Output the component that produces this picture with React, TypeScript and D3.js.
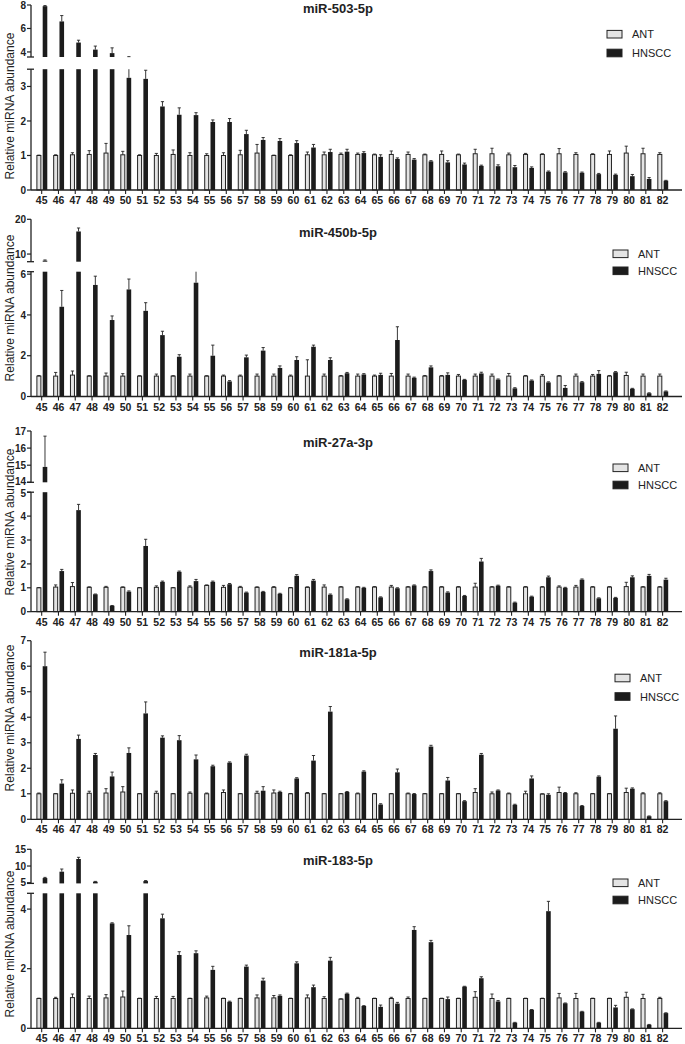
import React, { useEffect } from "react";
import * as d3 from "d3";

const categories = [
  "45", "46", "47", "48", "49", "50", "51", "52", "53", "54", "55", "56", "57",
  "58", "59", "60", "61", "62", "63", "64", "65", "66", "67", "68", "69", "70",
  "71", "72", "73", "74", "75", "76", "77", "78", "79", "80", "81", "82",
];
const seriesNames = ["ANT", "HNSCC"];
const yAxisTitle = "Relative miRNA abundance";

// miR-503-5p
const ant503 = [1.0, 1.0, 1.02, 1.03, 1.07, 1.02, 1.0, 1.0, 1.03, 1.0, 1.0, 1.0, 1.02, 1.07, 1.0, 1.0, 1.02, 1.02, 1.03, 1.03, 1.02, 1.03, 1.03, 1.02, 1.03, 1.02, 1.05, 1.05, 1.02, 1.03, 1.03, 1.05, 1.03, 1.03, 1.03, 1.07, 1.05, 1.03];
const ant503Sd = [0.01, 0.02, 0.06, 0.11, 0.28, 0.1, 0.02, 0.06, 0.13, 0.08, 0.05, 0.08, 0.13, 0.25, 0.01, 0.02, 0.08, 0.08, 0.04, 0.04, 0.02, 0.1, 0.07, 0.02, 0.1, 0.02, 0.13, 0.16, 0.05, 0.03, 0.02, 0.15, 0.05, 0.02, 0.1, 0.2, 0.16, 0.05];
const hn503 = [7.9, 6.6, 4.8, 4.2, 3.9, 3.25, 3.22, 2.42, 2.18, 2.17, 1.97, 1.97, 1.62, 1.45, 1.42, 1.36, 1.23, 1.1, 1.11, 1.07, 0.96, 0.9, 0.88, 0.83, 0.8, 0.74, 0.7, 0.69, 0.66, 0.64, 0.53, 0.51, 0.5, 0.46, 0.44, 0.4, 0.32, 0.27];
const hn503Sd = [0.05, 0.5, 0.2, 0.3, 0.45, 0.35, 0.25, 0.14, 0.2, 0.07, 0.06, 0.1, 0.11, 0.07, 0.07, 0.07, 0.09, 0.08, 0.07, 0.04, 0.06, 0.03, 0.03, 0.02, 0.05, 0.04, 0.02, 0.04, 0.05, 0.03, 0.02, 0.02, 0.02, 0.02, 0.02, 0.05, 0.04, 0.01];

// miR-450b-5p
const ant450 = [1.0, 1.0, 1.05, 1.0, 1.0, 1.0, 1.0, 1.0, 1.0, 1.0, 1.0, 1.0, 1.0, 1.0, 1.0, 1.0, 1.0, 1.0, 1.0, 1.0, 1.0, 1.0, 1.0, 1.0, 1.0, 1.0, 1.0, 1.0, 1.0, 1.0, 1.0, 1.0, 1.0, 1.0, 1.0, 1.03, 1.0, 1.0];
const ant450Sd = [0.03, 0.18, 0.2, 0.02, 0.15, 0.12, 0.02, 0.1, 0.02, 0.1, 0.02, 0.05, 0.05, 0.1, 0.1, 0.05, 0.8, 0.1, 0.03, 0.1, 0.05, 0.13, 0.1, 0.03, 0.03, 0.08, 0.1, 0.1, 0.13, 0.03, 0.08, 0.03, 0.1, 0.08, 0.03, 0.16, 0.1, 0.1];
const hn450 = [8.1, 4.4, 16.5, 5.47, 3.75, 5.25, 4.2, 3.01, 1.95, 5.58, 2.0, 0.74, 1.92, 2.25, 1.4, 1.79, 2.44, 1.79, 1.14, 1.08, 1.06, 2.77, 0.92, 1.43, 1.06, 0.82, 1.13, 0.83, 0.4, 0.78, 0.69, 0.42, 0.7, 1.11, 1.19, 0.38, 0.16, 0.25];
const hn450Sd = [0.2, 0.8, 1.0, 0.43, 0.2, 0.51, 0.4, 0.19, 0.1, 0.75, 0.52, 0.04, 0.11, 0.15, 0.1, 0.16, 0.08, 0.11, 0.04, 0.04, 0.08, 0.65, 0.03, 0.07, 0.1, 0.02, 0.06, 0.03, 0.03, 0.03, 0.03, 0.12, 0.03, 0.16, 0.03, 0.02, 0.02, 0.02];

// miR-27a-3p
const ant27 = [1.0, 1.03, 1.05, 1.02, 1.02, 1.02, 1.0, 1.02, 1.0, 1.03, 1.1, 1.02, 1.02, 1.02, 1.02, 1.0, 1.02, 1.03, 1.03, 1.03, 1.03, 1.03, 1.03, 1.03, 1.03, 1.03, 1.03, 1.03, 1.03, 1.03, 1.03, 1.03, 1.03, 1.03, 1.03, 1.05, 1.03, 1.03];
const ant27Sd = [0.01, 0.09, 0.17, 0.02, 0.04, 0.02, 0.01, 0.06, 0.01, 0.05, 0.02, 0.08, 0.04, 0.02, 0.03, 0.01, 0.02, 0.09, 0.02, 0.02, 0.02, 0.07, 0.02, 0.02, 0.02, 0.02, 0.16, 0.02, 0.02, 0.02, 0.02, 0.05, 0.07, 0.02, 0.02, 0.18, 0.02, 0.02];
const hn27 = [14.9, 1.7, 4.25, 0.73, 0.25, 0.84, 2.75, 1.25, 1.67, 1.28, 1.25, 1.15, 0.8, 0.83, 0.75, 1.5, 1.3, 0.71, 0.52, 1.0, 0.6, 0.98, 1.1, 1.7, 0.8, 0.66, 2.1, 1.09, 0.38, 0.63, 1.44, 1.0, 1.34, 0.56, 0.58, 1.44, 1.5, 1.34];
const hn27Sd = [1.8, 0.07, 0.24, 0.01, 0.01, 0.03, 0.28, 0.03, 0.03, 0.07, 0.03, 0.03, 0.02, 0.02, 0.02, 0.05, 0.05, 0.03, 0.02, 0.02, 0.02, 0.02, 0.02, 0.05, 0.03, 0.02, 0.13, 0.02, 0.02, 0.02, 0.05, 0.02, 0.03, 0.02, 0.02, 0.06, 0.06, 0.06];

// miR-181a-5p
const ant181 = [1.0, 1.0, 1.02, 1.02, 1.03, 1.07, 1.0, 1.02, 1.0, 1.02, 1.0, 1.05, 1.0, 1.02, 1.03, 1.0, 1.02, 1.0, 1.0, 1.0, 1.0, 1.0, 1.0, 1.0, 1.0, 1.0, 1.05, 1.0, 1.0, 1.0, 0.99, 1.05, 1.0, 1.0, 1.0, 1.05, 1.0, 1.0];
const ant181Sd = [0.03, 0.01, 0.13, 0.08, 0.17, 0.21, 0.01, 0.08, 0.01, 0.05, 0.03, 0.1, 0.01, 0.08, 0.12, 0.01, 0.03, 0.01, 0.01, 0.03, 0.01, 0.01, 0.03, 0.01, 0.01, 0.01, 0.15, 0.07, 0.03, 0.1, 0.01, 0.21, 0.04, 0.01, 0.01, 0.17, 0.04, 0.04];
const hn181 = [6.0, 1.4, 3.15, 2.52, 1.68, 2.6, 4.15, 3.2, 3.1, 2.35, 2.08, 2.22, 2.5, 1.12, 1.07, 1.6, 2.3, 4.22, 1.07, 1.87, 0.58, 1.84, 0.99, 2.85, 1.52, 0.71, 2.53, 1.13, 0.57, 1.6, 0.96, 1.03, 0.52, 1.67, 3.55, 1.2, 0.12, 0.71];
const hn181Sd = [0.55, 0.15, 0.15, 0.06, 0.17, 0.2, 0.45, 0.07, 0.18, 0.17, 0.04, 0.03, 0.05, 0.16, 0.03, 0.03, 0.2, 0.2, 0.02, 0.03, 0.03, 0.13, 0.02, 0.05, 0.12, 0.02, 0.05, 0.02, 0.02, 0.1, 0.04, 0.02, 0.02, 0.03, 0.5, 0.03, 0.01, 0.02];

// miR-183-5p
const ant183 = [1.0, 1.0, 1.03, 1.0, 1.02, 1.05, 1.0, 1.0, 1.0, 1.0, 1.02, 1.0, 1.0, 1.02, 1.02, 1.0, 1.02, 1.0, 0.98, 1.0, 1.0, 1.0, 1.0, 1.0, 1.0, 1.0, 1.04, 1.0, 1.0, 1.0, 1.0, 1.02, 1.0, 1.0, 1.0, 1.04, 1.0, 1.0];
const ant183Sd = [0.01, 0.04, 0.12, 0.08, 0.11, 0.2, 0.01, 0.07, 0.07, 0.01, 0.06, 0.01, 0.01, 0.1, 0.08, 0.01, 0.1, 0.06, 0.01, 0.04, 0.01, 0.04, 0.05, 0.01, 0.01, 0.01, 0.19, 0.15, 0.01, 0.01, 0.01, 0.15, 0.17, 0.01, 0.01, 0.17, 0.14, 0.04];
const hn183 = [6.4, 8.3, 12.1, 5.3, 3.52, 3.13, 5.5, 3.69, 2.46, 2.52, 1.96, 0.89, 2.07, 1.6, 1.09, 2.18, 1.38, 2.27, 1.16, 0.75, 0.72, 0.83, 3.3, 2.89, 0.98, 1.4, 1.68, 0.9, 0.19, 0.62, 3.93, 0.84, 0.56, 0.19, 0.7, 0.64, 0.12, 0.51];
const hn183Sd = [0.2, 0.8, 0.5, 0.1, 0.02, 0.31, 0.15, 0.14, 0.11, 0.08, 0.12, 0.02, 0.05, 0.08, 0.03, 0.05, 0.07, 0.11, 0.02, 0.01, 0.06, 0.04, 0.11, 0.06, 0.07, 0.01, 0.05, 0.03, 0.01, 0.01, 0.33, 0.01, 0.01, 0.01, 0.07, 0.01, 0.01, 0.01];

type Seg = { domain: [number, number]; range: [number, number]; ticks: number[] };
type PanelCfg = {
  title: string;
  ant: number[];
  antSd: number[];
  hn: number[];
  hnSd: number[];
  y0: number;
  segs: Seg[];
  titleY: number;
  legendX: number;
  legendY: [number, number];
  labelY: number;
};

const panels: PanelCfg[] = [
  {
    title: "miR-503-5p", ant: ant503, antSd: ant503Sd, hn: hn503, hnSd: hn503Sd, y0: 190,
    segs: [
      { domain: [0, 3.5], range: [190, 69.2], ticks: [0, 1, 2, 3] },
      { domain: [3.57, 8], range: [57, 5], ticks: [4, 6, 8] },
    ],
    titleY: 13, legendX: 607, legendY: [34.2, 53], labelY: 106,
  },
  {
    title: "miR-450b-5p", ant: ant450, antSd: ant450Sd, hn: hn450, hnSd: hn450Sd, y0: 396.5,
    segs: [
      { domain: [0, 6.12], range: [396.5, 271.7], ticks: [0, 2, 4, 6] },
      { domain: [7.8, 20], range: [261.7, 219.3], ticks: [10, 20] },
    ],
    titleY: 237, legendX: 613, legendY: [253.8, 270.8], labelY: 308,
  },
  {
    title: "miR-27a-3p", ant: ant27, antSd: ant27Sd, hn: hn27, hnSd: hn27Sd, y0: 611.7,
    segs: [
      { domain: [0, 5], range: [611.7, 492.2], ticks: [0, 1, 2, 3, 4, 5] },
      { domain: [14, 17], range: [482.3, 431], ticks: [14, 15, 16, 17] },
    ],
    titleY: 447, legendX: 613, legendY: [467.8, 485], labelY: 522,
  },
  {
    title: "miR-181a-5p", ant: ant181, antSd: ant181Sd, hn: hn181, hnSd: hn181Sd, y0: 819.3,
    segs: [{ domain: [0, 7], range: [819.3, 640.7], ticks: [0, 1, 2, 3, 4, 5, 6, 7] }],
    titleY: 657, legendX: 615, legendY: [678, 696.5], labelY: 718,
  },
  {
    title: "miR-183-5p", ant: ant183, antSd: ant183Sd, hn: hn183, hnSd: hn183Sd, y0: 1028.3,
    segs: [
      { domain: [0, 4.53], range: [1028.3, 893.3], ticks: [0, 2, 4] },
      { domain: [4.8, 15], range: [883.4, 849.3], ticks: [5, 10, 15] },
    ],
    titleY: 864.5, legendX: 613, legendY: [882.8, 900], labelY: 944,
  },
];

const FONT = "'Liberation Sans', Arial, Helvetica, sans-serif";
const AXIS_X = 31;
const AXIS_END = 682;
const INK = "#222";
const ANT_FILL = "#e4e4e4";
const HN_FILL = "#1c1c1c";

const x = d3.scaleBand<string>().domain(categories).range([33.3, 671]).paddingInner(0).paddingOuter(0);

function Panel({ p }: { p: PanelCfg }) {
  const segs = p.segs.map((s) => ({ ...s, scale: d3.scaleLinear().domain(s.domain).range(s.range) }));
  const cx = (c: string) => (x(c) as number) + x.bandwidth() / 2;

  const barParts = (v: number) =>
    segs
      .filter((s) => v > s.domain[0])
      .map((s) => ({ top: s.scale(Math.min(v, s.domain[1])), bottom: s.scale(s.domain[0]) }));

  const errParts = (v: number, e: number) => {
    const lines: { y1: number; y2: number }[] = [];
    let cap: number | null = null;
    const t = v + e;
    segs.forEach((s) => {
      const lo = Math.max(v, s.domain[0]);
      const hi = Math.min(t, s.domain[1]);
      if (hi > lo) lines.push({ y1: s.scale(lo), y2: s.scale(hi) });
      if (t >= s.domain[0] && t <= s.domain[1]) cap = s.scale(t);
    });
    return { lines, cap };
  };

  // keep labels at the break from colliding: nudge apart when very close
  const labelOffset = (k: number, t: number) => {
    if (segs.length < 2) return 0;
    const lowerTop = segs[0].scale(segs[0].ticks[segs[0].ticks.length - 1]);
    const upperBottom = segs[1].scale(segs[1].ticks[0]);
    if (Math.abs(lowerTop - upperBottom) >= 12) return 0;
    if (k === 0 && t === segs[0].ticks[segs[0].ticks.length - 1]) return 1.3;
    if (k === 1 && t === segs[1].ticks[0]) return -1.3;
    return 0;
  };

  const series = [
    { vals: p.ant, sd: p.antSd, dx: -4.8, w: 4, fill: ANT_FILL, stroke: INK },
    { vals: p.hn, sd: p.hnSd, dx: 1, w: 4.6, fill: HN_FILL, stroke: "none" },
  ];

  return (
    <g>
      {series.map((s, si) =>
        categories.map((c, i) => {
          const parts = barParts(s.vals[i]);
          const err = errParts(s.vals[i], s.sd[i]);
          const ex = cx(c) + s.dx + s.w / 2;
          return (
            <g key={`${si}-${c}`}>
              {parts.map((b, k) => (
                <rect
                  key={k}
                  x={cx(c) + s.dx}
                  y={b.top}
                  width={s.w}
                  height={Math.max(0, b.bottom - b.top)}
                  fill={s.fill}
                  stroke={s.stroke}
                  strokeWidth={1}
                />
              ))}
              {err.lines.map((l, k) => (
                <line key={`e${k}`} x1={ex} x2={ex} y1={l.y1} y2={l.y2} stroke={INK} strokeWidth={0.9} />
              ))}
              {err.cap !== null && (
                <line x1={ex - 1.6} x2={ex + 1.6} y1={err.cap} y2={err.cap} stroke={INK} strokeWidth={0.9} />
              )}
            </g>
          );
        })
      )}

      {segs.map((s, k) => (
        <g key={`seg${k}`}>
          <line x1={AXIS_X} x2={AXIS_X} y1={s.range[0]} y2={s.range[1]} stroke={INK} strokeWidth={1.3} />
          {s.ticks.map((t) => (
            <g key={t}>
              <line x1={AXIS_X - 4} x2={AXIS_X} y1={s.scale(t)} y2={s.scale(t)} stroke={INK} strokeWidth={1.2} />
              <text
                x={AXIS_X - 5}
                y={s.scale(t) + labelOffset(k, t)}
                dy="0.36em"
                textAnchor="end"
                fontFamily={FONT}
                fontWeight="bold"
                fontSize={10}
                fill={INK}
              >
                {t}
              </text>
            </g>
          ))}
          {segs.length > 1 && k === 0 && (
            <line x1={AXIS_X - 4} x2={AXIS_X + 3} y1={s.range[1]} y2={s.range[1]} stroke={INK} strokeWidth={1.3} />
          )}
          {segs.length > 1 && k === 1 && (
            <line x1={AXIS_X - 4} x2={AXIS_X + 3} y1={s.range[0]} y2={s.range[0]} stroke={INK} strokeWidth={1.3} />
          )}
        </g>
      ))}

      <line x1={AXIS_X} x2={AXIS_END} y1={p.y0} y2={p.y0} stroke={INK} strokeWidth={1.3} />
      {categories.map((c) => (
        <g key={`xt${c}`}>
          <line x1={cx(c)} x2={cx(c)} y1={p.y0} y2={p.y0 + 4} stroke={INK} strokeWidth={1.1} />
          <text
            x={cx(c)}
            y={p.y0 + 14}
            textAnchor="middle"
            fontFamily={FONT}
            fontWeight="bold"
            fontSize={10.5}
            fill={INK}
          >
            {c}
          </text>
        </g>
      ))}

      <text
        transform={`translate(14, ${p.labelY}) rotate(-90)`}
        textAnchor="middle"
        fontFamily={FONT}
        fontSize={12}
        fill={INK}
      >
        {yAxisTitle}
      </text>

      <text x={338} y={p.titleY} textAnchor="middle" fontFamily={FONT} fontWeight="bold" fontSize={13} fill={INK}>
        {p.title}
      </text>

      {seriesNames.map((n, k) => (
        <g key={n}>
          <rect
            x={p.legendX}
            y={p.legendY[k] - 3.8}
            width={15}
            height={7.6}
            fill={k === 0 ? ANT_FILL : HN_FILL}
            stroke={INK}
            strokeWidth={1}
          />
          <text x={p.legendX + 25} y={p.legendY[k] + 4} fontFamily={FONT} fontSize={11} fill={INK}>
            {n}
          </text>
        </g>
      ))}
    </g>
  );
}

export default function App() {
  useEffect(() => {
    document.body.style.margin = "0";
    document.body.style.overflow = "hidden";
  }, []);
  return (
    <svg
      width={685}
      height={1044}
      viewBox="0 0 685 1044"
      style={{ position: "absolute", left: 0, top: 0, background: "#fff", display: "block" }}
    >
      <rect x={0} y={0} width={685} height={1044} fill="#fff" />
      {panels.map((p) => (
        <Panel key={p.title} p={p} />
      ))}
    </svg>
  );
}
